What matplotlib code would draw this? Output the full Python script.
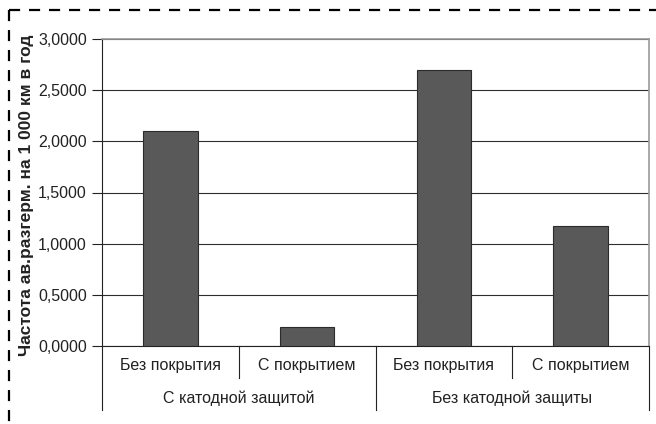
import matplotlib
matplotlib.use('Agg')
import matplotlib.pyplot as plt
from matplotlib.lines import Line2D
import matplotlib.transforms as mtransforms

plt.rcParams['font.family'] = ['Liberation Sans', 'DejaVu Sans']

categories = ['Без покрытия', 'С покрытием', 'Без покрытия', 'С покрытием']
groups = ['С катодной защитой', 'Без катодной защиты']
values = [2.10, 0.19, 2.70, 1.17]
y_ticks = [0.0, 0.5, 1.0, 1.5, 2.0, 2.5, 3.0]
y_label = 'Частота ав.разгерм. на 1 000 км в год'

fig = plt.figure(figsize=(6.56, 4.24), dpi=100)
ax = fig.add_axes([102 / 656, 78 / 424, 547 / 656, 307 / 424])

xs = list(range(len(values)))
ax.bar(xs, values, width=0.4, color='#595959', edgecolor='#2b2b2b', linewidth=0.8, zorder=3)

ax.set_xlim(-0.5, len(values) - 0.5)
ax.set_ylim(0, 3.0)
ax.set_yticks(y_ticks)
ax.set_yticklabels(['{:.4f}'.format(v).replace('.', ',') for v in y_ticks], fontsize=11.5, color='#222222')
ax.tick_params(axis='y', length=7, width=0.8, color='#222222', pad=4)
ax.set_xticks([])
ax.yaxis.grid(True, color='#2e2e2e', linewidth=0.8, zorder=0)
ax.set_axisbelow(True)

for s in ['top', 'right']:
    ax.spines[s].set_color('#999999')
    ax.spines[s].set_linewidth(1.2)
ax.spines['left'].set_color('#222222')
ax.spines['bottom'].set_color('#222222')
ax.spines['left'].set_linewidth(0.8)
ax.spines['bottom'].set_linewidth(0.8)

ax.set_ylabel(y_label, fontsize=12.5, fontweight='bold', color='#222222')
ax.yaxis.set_label_coords(-0.125, 0.49)

# two-level category axis
trans = mtransforms.blended_transform_factory(ax.transData, ax.transAxes)
per_group = len(categories) // len(groups)
for i in range(len(categories) + 1):
    x = i - 0.5
    y_end = -0.21 if i % per_group == 0 else -0.105
    ax.add_line(Line2D([x, x], [0, y_end], transform=trans, color='#222222',
                       linewidth=0.8, clip_on=False))
for i, c in enumerate(categories):
    ax.text(i, -0.065, c, transform=trans, ha='center', va='center', fontsize=11.5, color='#222222')
for g, name in enumerate(groups):
    xc = g * per_group + (per_group - 1) / 2
    ax.text(xc, -0.17, name, transform=trans, ha='center', va='center', fontsize=11.5, color='#222222')

# dashed frame (top and left visible)
fig.add_artist(Line2D([9 / 656, 1.0], [1 - 10 / 424, 1 - 10 / 424], transform=fig.transFigure,
                      color='black', linewidth=1.6, dashes=(5, 4)))
fig.add_artist(Line2D([9 / 656, 9 / 656], [1 - 10 / 424, 0], transform=fig.transFigure,
                      color='black', linewidth=1.6, dashes=(5, 4)))

fig.savefig('out.png', dpi=100)
